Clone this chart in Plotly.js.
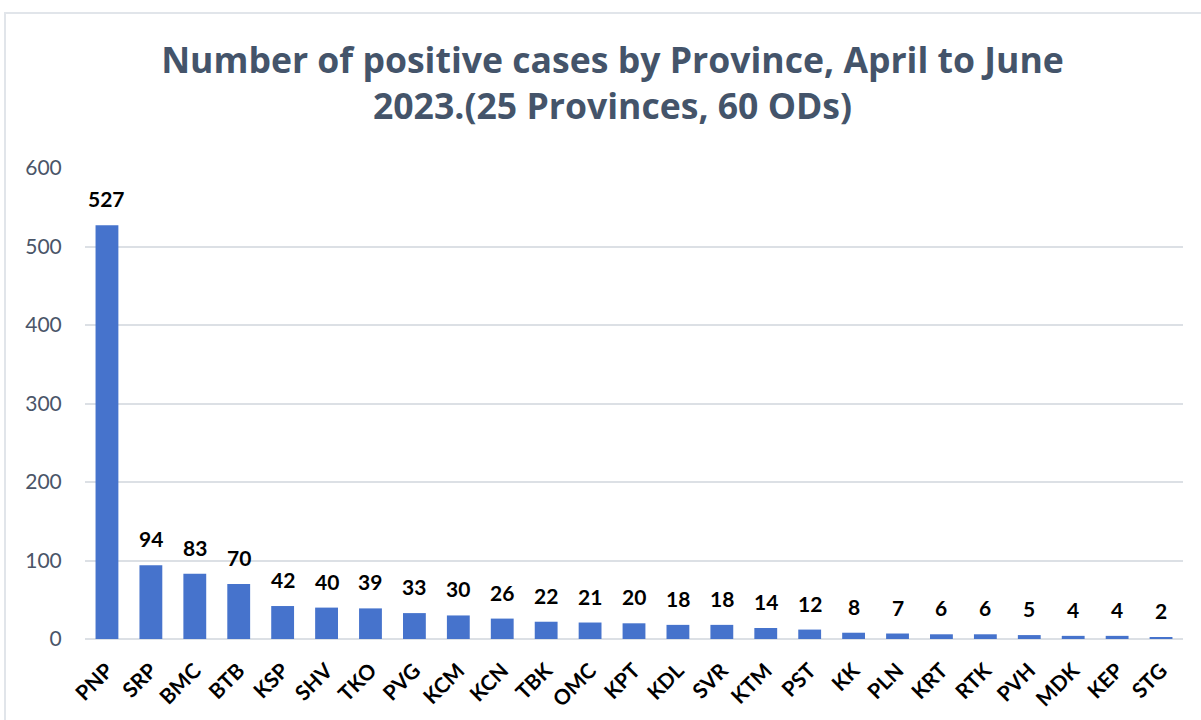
<!DOCTYPE html>
<html><head><meta charset="utf-8">
<script src="https://cdn.plot.ly/plotly-3.0.1.min.js"></script>
<style>
html,body{margin:0;padding:0;overflow:hidden;background:#fff;}
#frame{position:absolute;left:4px;top:12px;width:1300px;height:800px;border:2px solid #E1E5EA;box-sizing:border-box;}
#chart{position:absolute;left:0;top:0;width:1201px;height:720px;}
</style></head>
<body>
<div id="frame"></div>
<div id="chart"></div>
<script>
const provinces = ["PNP","SRP","BMC","BTB","KSP","SHV","TKO","PVG","KCM","KCN","TBK","OMC","KPT","KDL","SVR","KTM","PST","KK","PLN","KRT","RTK","PVH","MDK","KEP","STG"];
const cases = [527,94,83,70,42,40,39,33,30,26,22,21,20,18,18,14,12,8,7,6,6,5,4,4,2];
const yTicks = [0,100,200,300,400,500,600];

const font = "Lato, 'Open Sans', sans-serif";
const tfont = "'Open Sans', Lato, sans-serif";

const labels = provinces.map((p, i) => ({
  x: p, y: cases[i], xref: 'x', yref: 'y',
  text: String(cases[i]), showarrow: false,
  yanchor: 'bottom', yshift: 12,
  font: {family: font, size: 21, color: '#000', weight: 'bold'}
}));

Plotly.newPlot('chart', [{
  type: 'bar',
  x: provinces,
  y: cases,
  marker: {color: '#4673CC'},
  hoverinfo: 'x+y'
}], {
  width: 1201, height: 720,
  paper_bgcolor: 'rgba(0,0,0,0)',
  plot_bgcolor: 'rgba(0,0,0,0)',
  margin: {l: 85, r: 18, t: 168, b: 81},
  bargap: 0.48,
  showlegend: false,
  annotations: labels,
  title: {
    text: 'Number of positive cases by Province, April to June<br>2023.(25 Provinces, 60 ODs)',
    font: {family: tfont, size: 35.6, color: '#44546A', weight: 'bold'},
    x: 0.51, xanchor: 'center', y: 0.899, yanchor: 'top'
  },
  xaxis: {
    tickangle: -45,
    tickfont: {family: font, size: 21, color: '#000', weight: 'bold'},
    showgrid: false, zeroline: false, showline: false,
    ticks: 'outside', ticklen: 10, tickcolor: 'rgba(0,0,0,0)'
  },
  yaxis: {
    range: [0, 600],
    tickvals: yTicks,
    tickfont: {family: font, size: 21, color: '#4A5568'},
    gridcolor: '#DCE0E5', gridwidth: 2,
    zeroline: true, zerolinecolor: '#DCE0E5', zerolinewidth: 2,
    showline: false, ticks: 'outside', ticklen: 18, tickcolor: 'rgba(0,0,0,0)'
  }
}, {displayModeBar: false});
</script>
</body></html>
